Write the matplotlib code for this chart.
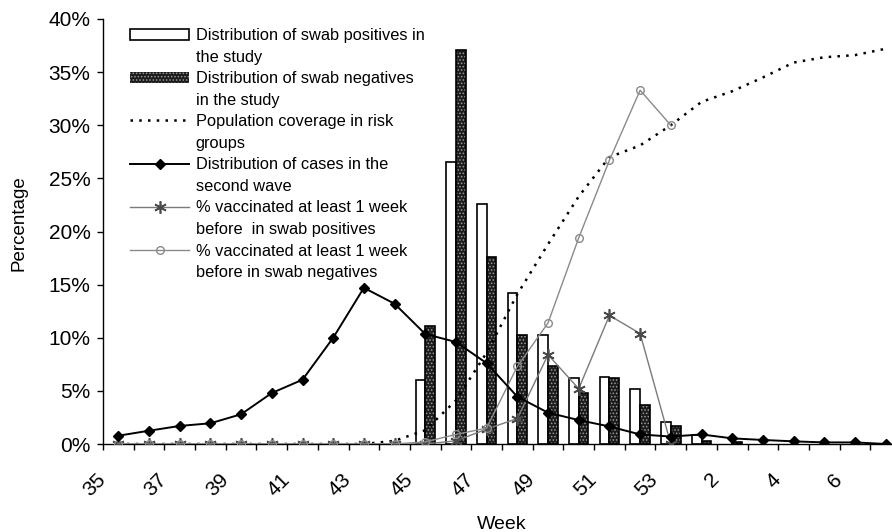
import numpy as np
import matplotlib
matplotlib.use('Agg')
import matplotlib.pyplot as plt
from matplotlib.patches import Patch
from matplotlib.ticker import NullFormatter, StrMethodFormatter
from matplotlib.transforms import ScaledTranslation

plt.rcParams['font.family'] = ['Liberation Sans', 'DejaVu Sans']
plt.rcParams['hatch.linewidth'] = 0.7

nan = np.nan

# weeks 35..53 of one year, then 1..7 of the next
weeks = [str(w) for w in range(35, 54)] + [str(w) for w in range(1, 8)]

# percentages
swab_pos = [nan] * 10 + [6.0, 26.5, 22.6, 14.2, 10.3, 6.2, 6.3, 5.2, 2.1, 0.85, nan] + [nan] * 5
swab_neg = [nan] * 10 + [11.1, 37.1, 17.6, 10.3, 7.3, 4.8, 6.2, 3.7, 1.7, 0.3, 0.2] + [nan] * 5
coverage = [0, 0, 0, 0, 0, 0, 0, 0, 0, 0.3, 1.3, 4.1, 8.6, 14.1, 18.8, 23.3, 27.0,
            28.1, 30.0, 32.2, 33.2, 34.5, 35.9, 36.4, 36.6, 37.2]
cases = [0.78, 1.25, 1.7, 1.95, 2.8, 4.8, 6.05, 10.0, 14.7, 13.2, 10.35, 9.6, 7.6,
         4.45, 2.95, 2.25, 1.65, 0.9, 0.7, 0.9, 0.53, 0.38, 0.25, 0.15, 0.15, 0.0]
vacc_pos = [0, 0, 0, 0, 0, 0, 0, 0, 0, 0, 0, 0.3, 1.4, 2.4, 8.4, 5.2, 12.1, 10.4, 0.0] + [nan] * 7
vacc_neg = [0, 0, 0, 0, 0, 0, 0, 0, 0, 0, 0.2, 0.9, 1.5, 7.3, 11.4, 19.4, 26.7, 33.3, 30.0] + [nan] * 7

legend_labels = [
    'Distribution of swab positives in', 'the study',
    'Distribution of swab negatives', 'in the study',
    'Population coverage in risk', 'groups',
    'Distribution of cases in the', 'second wave',
    '% vaccinated at least 1 week', 'before  in swab positives',
    '% vaccinated at least 1 week', 'before in swab negatives',
]

fig = plt.figure(figsize=(8.92, 5.32), dpi=100)
# axes runs a little past the right edge, as in the original crop
ax = fig.add_axes([103 / 892, 88 / 532, 798 / 892, 425 / 532])

x = np.arange(len(weeks))
bw = 0.316

h_pos = ax.bar(x - bw / 2, swab_pos, bw, facecolor='white', edgecolor='black', lw=1.2, zorder=2)
h_neg = ax.bar(x + bw / 2, swab_neg, bw, facecolor='#1c1c1c', edgecolor='#9a9a9a',
               hatch='.....', lw=0, zorder=2)
ax.bar(x + bw / 2, swab_neg, bw, fill=False, edgecolor='black', lw=1.2, zorder=2.1)

h_cov, = ax.plot(x, coverage, color='black', lw=1.8, ls=(0, (1, 2.5)), zorder=3)
h_cases, = ax.plot(x, cases, color='black', lw=1.4, marker='D', ms=5.5,
                   mfc='black', mec='black', zorder=5)
h_vp, = ax.plot(x, vacc_pos, color='#7a7a7a', lw=1.0, marker=(6, 2, 0), ms=9,
                mec='#4a4a4a', mew=1.2, zorder=4)
h_vn, = ax.plot(x, vacc_neg, color='#8a8a8a', lw=1.0, marker='o', ms=5.5,
                mfc='none', mec='#8a8a8a', mew=1.0, zorder=4)

ax.set_xlim(-0.5, len(weeks) - 0.5)
ax.set_ylim(0, 40)

# ticks at category borders, labels at every other category centre
ax.set_xticks(np.arange(-0.5, len(weeks), 1))
ax.xaxis.set_major_formatter(NullFormatter())
ax.set_xticks(x[::2], weeks[::2], minor=True)
ax.tick_params(axis='x', which='major', length=4.5, width=1, direction='out')
ax.tick_params(axis='x', which='minor', length=0, pad=18.5, labelsize=15)
shift = ScaledTranslation(-9 / 100, 0, fig.dpi_scale_trans)
for lab in ax.get_xticklabels(minor=True):
    lab.set_rotation(45)
    lab.set_ha('right')
    lab.set_va('top')
    lab.set_transform(lab.get_transform() + shift)

ax.set_yticks(np.arange(0, 41, 5))
ax.yaxis.set_major_formatter(StrMethodFormatter('{x:.0f}%'))
ax.tick_params(axis='y', length=4.5, width=1, pad=4.5, labelsize=15)

for side in ['top', 'right']:
    ax.spines[side].set_visible(False)
for side in ['left', 'bottom']:
    ax.spines[side].set_linewidth(1.0)

ax.set_xlabel('Week', fontsize=14)
ax.xaxis.set_label_coords(0.5, -0.17)
ax.set_ylabel('Percentage', fontsize=13.5)
ax.yaxis.set_label_coords(-0.094, 0.52)

blank = Patch(facecolor='none', edgecolor='none')
handles = [h_pos, blank, h_neg, blank, h_cov, blank, h_cases, blank, h_vp, blank, h_vn, blank]
fig.legend(handles, legend_labels, loc='upper left', bbox_to_anchor=(130 / 892, 1 - 28 / 532),
           frameon=False, fontsize=11.8, handlelength=3.6, handletextpad=0.4,
           labelspacing=0.4, borderpad=0, borderaxespad=0, numpoints=1)

fig.savefig('out.png', dpi=100)
